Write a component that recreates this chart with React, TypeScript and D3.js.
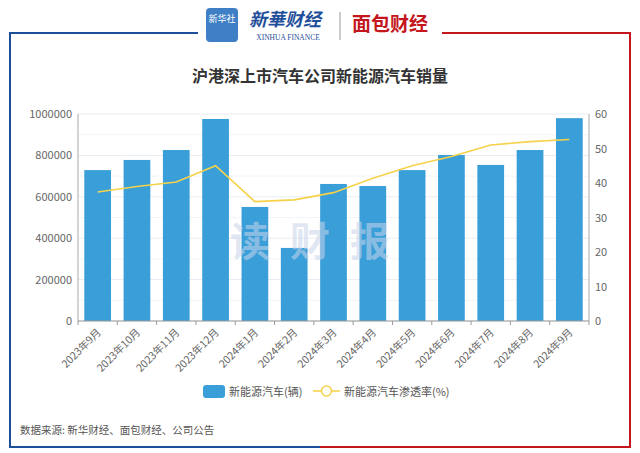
import * as d3 from 'd3';

const months = ['2023年9月','2023年10月','2023年11月','2023年12月','2024年1月','2024年2月','2024年3月','2024年4月','2024年5月','2024年6月','2024年7月','2024年8月','2024年9月'];
const sales = [729000, 778000, 826000, 976000, 551000, 353000, 662000, 652000, 729000, 802000, 754000, 826000, 980000];
const rate = [37.4, 39.0, 40.3, 45.0, 34.6, 35.1, 37.2, 41.4, 45.0, 47.7, 51.0, 52.0, 52.6];
const leftTicks = [0, 200000, 400000, 600000, 800000, 1000000];
const rightTicks = [0, 10, 20, 30, 40, 50, 60];

const W = 640, H = 453;
const m = { left: 78, right: 589, top: 114, bottom: 321 };
const FONT = '"Microsoft YaHei","Noto Sans CJK SC",sans-serif';
const BLUE = '#3a9fd9';
const YEL = '#f6d24a';
const FRAME_B = '#1f4e9a';
const FRAME_R = '#c4161c';

export default function App() {
  const x = d3.scaleBand().domain(months).range([m.left, m.right]).paddingInner(0.32).paddingOuter(0.16);
  const yL = d3.scaleLinear().domain([0, 1000000]).range([m.bottom, m.top]);
  const yR = d3.scaleLinear().domain([0, 60]).range([m.bottom, m.top]);
  const step = (m.right - m.left) / months.length;
  const line = d3.line<number>().x((_, i) => x(months[i])! + x.bandwidth() / 2).y(d => yR(d));

  return (
    <svg width={W} height={H} style={{ position: 'absolute', left: 0, top: 0, background: '#fff' }} fontFamily={FONT}>
      {/* frame */}
      <path d="M198,33 H10 V447 H320" fill="none" stroke={FRAME_B} strokeWidth={2} />
      <path d="M442,33 H630 V447 H320" fill="none" stroke={FRAME_R} strokeWidth={2} />
      {/* header logos */}
      <rect x={206} y={8} width={32} height={34} rx={4} fill="#3f7fc6" />
      <text x={222} y={22} fontSize={9} fill="#fff" textAnchor="middle">新华社</text>
      <text x={285} y={26} fontSize={18} fill="#1f4e9a" fontStyle="italic" fontWeight="bold" textAnchor="middle">新華财经</text>
      <text x={288} y={40} fontSize={7.5} fill="#1f4e9a" textAnchor="middle" fontFamily="Liberation Serif">XINHUA FINANCE</text>
      <line x1={340} y1={12} x2={340} y2={40} stroke="#999" />
      <text x={390} y={31} fontSize={19} fill={FRAME_R} fontWeight="bold" textAnchor="middle">面包财经</text>
      <text x={320} y={82} fontSize={16} fontWeight="bold" fill="#333" textAnchor="middle">沪港深上市汽车公司新能源汽车销量</text>

      {/* grid */}
      {leftTicks.map(t => (
        <line key={t} x1={m.left} x2={m.right} y1={yL(t)} y2={yL(t)} stroke="#e8edf3" />
      ))}
      {leftTicks.slice(0, -1).map(t => (
        <line key={'h' + t} x1={m.left} x2={m.right} y1={yL(t + 100000)} y2={yL(t + 100000)} stroke="#f1f4f8" />
      ))}

      {sales.map((v, i) => (
        <rect key={i} x={x(months[i])} y={yL(v)} width={x.bandwidth()} height={yL(0) - yL(v)} fill={BLUE} />
      ))}
      {/* watermark */}
      <text x={320} y={256} fontSize={40} fontWeight="bold" fill="#c8d4ea" opacity={0.55} textAnchor="middle" letterSpacing={20}>读财报</text>
      <path d={line(rate)!} fill="none" stroke={YEL} strokeWidth={1.6} />

      {/* axes */}
      <line x1={m.left} x2={m.left} y1={m.top} y2={m.bottom} stroke="#aaa" />
      <line x1={m.right} x2={m.right} y1={m.top} y2={m.bottom} stroke="#aaa" />
      <line x1={m.left} x2={m.right} y1={m.bottom} y2={m.bottom} stroke="#999" />
      {months.map((_, i) => (
        <line key={i} x1={m.left + step * i} x2={m.left + step * i} y1={m.bottom} y2={m.bottom + 4} stroke="#999" />
      ))}
      <line x1={m.right} x2={m.right} y1={m.bottom} y2={m.bottom + 4} stroke="#999" />
      {leftTicks.map(t => (
        <text key={t} x={m.left - 6} y={yL(t) + 4} fontSize={11} fill="#666" textAnchor="end">{t}</text>
      ))}
      {rightTicks.map(t => (
        <text key={t} x={m.right + 6} y={yR(t) + 4} fontSize={11} fill="#666">{t}</text>
      ))}
      {months.map(mo => (
        <text key={mo} fontSize={10.5} fill="#666" textAnchor="end"
          transform={`translate(${x(mo)! + x.bandwidth() / 2 + 4},${m.bottom + 12}) rotate(-45)`}>{mo}</text>
      ))}

      {/* legend */}
      <rect x={203} y={385} width={22} height={13} rx={3} fill={BLUE} />
      <text x={229} y={396} fontSize={11} fill="#555">新能源汽车(辆)</text>
      <line x1={313} x2={340} y1={391} y2={391} stroke={YEL} strokeWidth={1.5} />
      <circle cx={326.5} cy={391} r={5} fill="#fff" stroke={YEL} strokeWidth={1.5} />
      <text x={344} y={396} fontSize={11} fill="#555">新能源汽车渗透率(%)</text>

      <text x={20} y={434} fontSize={10.5} fill="#555">数据来源: 新华财经、面包财经、公司公告</text>
    </svg>
  );
}
